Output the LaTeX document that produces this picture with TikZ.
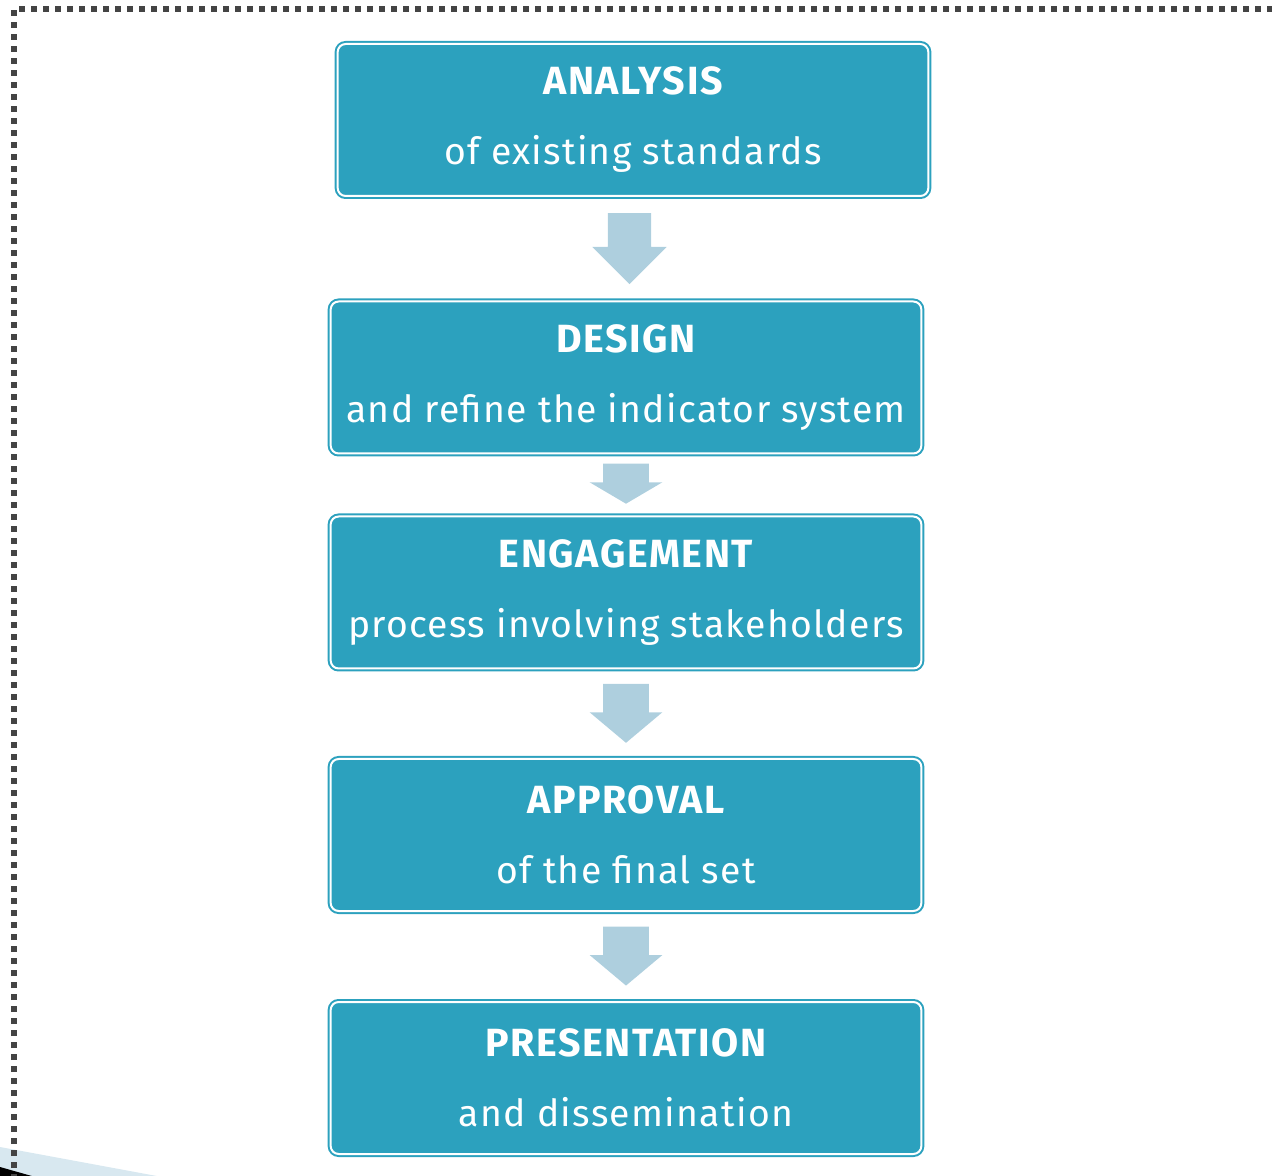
\documentclass[tikz,border=0pt]{standalone}
\usepackage{fontspec}
\setmainfont{Fira Sans}[LetterSpace=3.5]
\usetikzlibrary{calc,shapes.arrows}
\definecolor{boxteal}{RGB}{44,161,190}
\definecolor{arrowblue}{RGB}{174,207,222}
\definecolor{wedgeblue}{RGB}{216,232,240}
\definecolor{dotgrey}{RGB}{68,68,68}
\newcommand{\stagetitle}[1]{{\fontsize{29.5}{52.5}\bfseries\addfontfeature{LetterSpace=4}#1}}
\begin{document}
\begin{tikzpicture}[x=0.75pt,y=-0.75pt]
\tikzstyle{stage}=[rectangle,rounded corners=6pt,fill=boxteal,draw=boxteal,
  double=white,double distance=1.5pt,line width=1.5pt,
  minimum width=443pt,minimum height=114pt,inner sep=0pt,
  text=white,align=center,font=\fontsize{28}{52.5}\selectfont]
\tikzstyle{step arrow}=[single arrow,rotate=-90,fill=arrowblue,
  draw=none,inner xsep=0pt,inner ysep=16.9pt]
\useasboundingbox (0,0) rectangle (1272,1176);
\begin{scope}
\clip (0,0) rectangle (1272,1176);
% corner of the next sheet
\fill[wedgeblue] (0,1147) -- (200,1184) -- (0,1184) -- cycle;
\fill[black] (0,1167) -- (60,1184) -- (0,1184) -- cycle;
% dotted frame
\draw[dotgrey,line width=4pt,dash pattern=on 4.5pt off 4.5pt]
  (14,1180) -- (14,9) -- (1276,9);
\end{scope}
\node[stage] (analysis) at (633,120)
  {\stagetitle{ANALYSIS}\\of existing standards};
\node[stage] (design) at (626,377.5)
  {\stagetitle{DESIGN}\\and refine the indicator system};
\node[stage] (engagement) at (626,592.5)
  {\stagetitle{ENGAGEMENT}\\process involving stakeholders};
\node[stage] (approval) at (626,835)
  {\stagetitle{APPROVAL}\\of the final set};
\node[stage] (presentation) at (626,1078)
  {\stagetitle{PRESENTATION}\\and dissemination};
\node[step arrow,minimum height=53.25pt,inner ysep=16pt,
  single arrow head extend=11.6pt,single arrow tip angle=90]
  at ($(analysis.south)!.5!(design.north)+(0,-11)$) {};
\node[step arrow,minimum height=30pt,single arrow head extend=10.1pt,
  single arrow tip angle=119]
  at ($(design.south)!.5!(engagement.north)+(0,-8)$) {};
\node[step arrow,minimum height=44.25pt,single arrow head extend=10.1pt,
  single arrow tip angle=100]
  at ($(engagement.south)!.5!(approval.north)+(0,-10)$) {};
\node[step arrow,minimum height=44.25pt,single arrow head extend=10.1pt,
  single arrow tip angle=100]
  at ($(approval.south)!.5!(presentation.north)+(0,-10)$) {};
\end{tikzpicture}
\end{document}
